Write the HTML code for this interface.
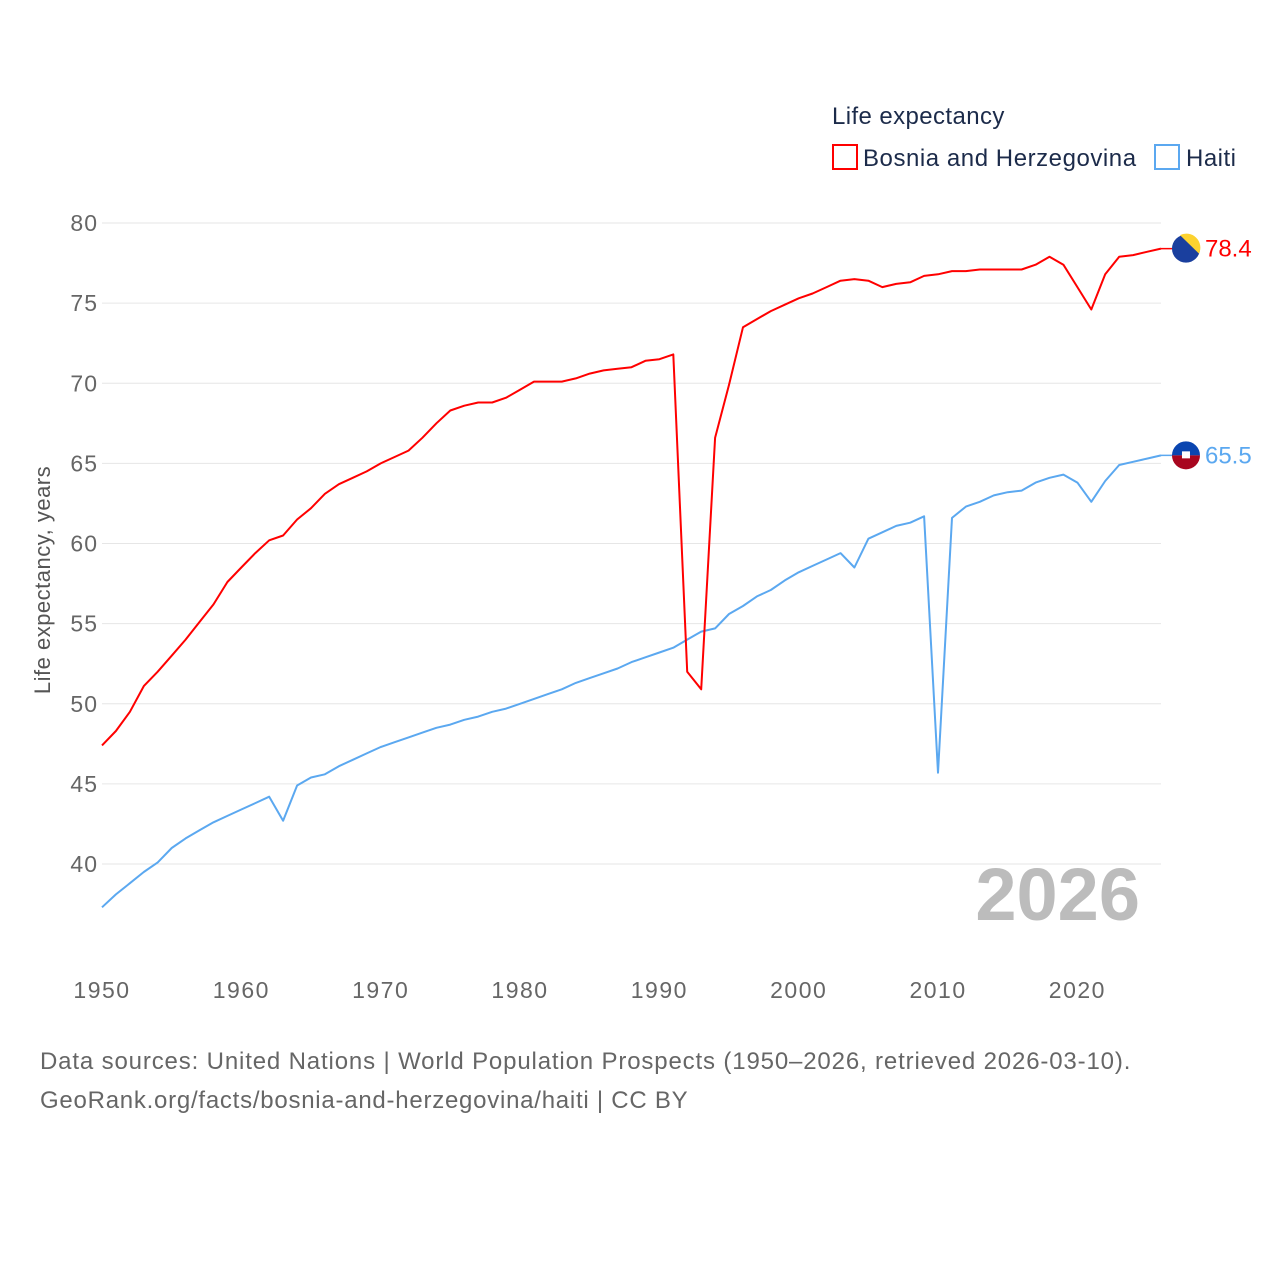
<!DOCTYPE html>
<html><head><meta charset="utf-8"><style>
body{margin:0;background:#fff;}
svg text{font-family:"Liberation Sans",sans-serif;}
</style></head><body>
<svg id="chart" width="1280" height="1280" xmlns="http://www.w3.org/2000/svg">
<rect width="1280" height="1280" fill="#fff"/>
<text x="832" y="124" font-size="24" letter-spacing="0.4" fill="#1c2b4a">Life expectancy</text>
<g>
<rect x="833" y="145" width="24" height="24" fill="none" stroke="#ff0000" stroke-width="2"/>
<text x="863" y="166" font-size="24" letter-spacing="0.55" fill="#1c2b4a">Bosnia and Herzegovina</text></g>
<g>
<rect x="1155" y="145" width="24" height="24" fill="none" stroke="#5ba8f0" stroke-width="2"/>
<text x="1186" y="166" font-size="24" letter-spacing="0.5" fill="#1c2b4a">Haiti</text></g>
<g id="grid"></g>
<text transform="translate(50,580) rotate(-90)" text-anchor="middle" font-size="22" letter-spacing="0.5" fill="#555">Life expectancy, years</text>
<text x="1140" y="920" text-anchor="end" font-size="74" font-weight="bold" fill="#bcbcbc">2026</text>
<g id="series"></g>
<text x="40" y="1069" font-size="24" letter-spacing="0.85" fill="#666">Data sources: United Nations | World Population Prospects (1950–2026, retrieved 2026-03-10).</text>
<text x="40" y="1108" font-size="24" letter-spacing="0.75" fill="#666">GeoRank.org/facts/bosnia-and-herzegovina/haiti | CC BY</text>
</svg>
<script>
const startYear = 1950;
const yTicks = [40,45,50,55,60,65,70,75,80];
const xTicks = [1950,1960,1970,1980,1990,2000,2010,2020];
const bosnia = [47.4,48.3,49.5,51.1,52.0,53.0,54.0,55.1,56.2,57.6,58.5,59.4,60.2,60.5,61.5,62.2,63.1,63.7,64.1,64.5,65.0,65.4,65.8,66.6,67.5,68.3,68.6,68.8,68.8,69.1,69.6,70.1,70.1,70.1,70.3,70.6,70.8,70.9,71.0,71.4,71.5,71.8,52.0,50.9,66.6,69.9,73.5,74.0,74.5,74.9,75.3,75.6,76.0,76.4,76.5,76.4,76.0,76.2,76.3,76.7,76.8,77.0,77.0,77.1,77.1,77.1,77.1,77.4,77.9,77.4,76.0,74.6,76.8,77.9,78.0,78.2,78.4];
const haiti = [37.3,38.1,38.8,39.5,40.1,41.0,41.6,42.1,42.6,43.0,43.4,43.8,44.2,42.7,44.9,45.4,45.6,46.1,46.5,46.9,47.3,47.6,47.9,48.2,48.5,48.7,49.0,49.2,49.5,49.7,50.0,50.3,50.6,50.9,51.3,51.6,51.9,52.2,52.6,52.9,53.2,53.5,54.0,54.5,54.7,55.6,56.1,56.7,57.1,57.7,58.2,58.6,59.0,59.4,58.5,60.3,60.7,61.1,61.3,61.7,45.7,61.6,62.3,62.6,63.0,63.2,63.3,63.8,64.1,64.3,63.8,62.6,63.9,64.9,65.1,65.3,65.5];
const NS="http://www.w3.org/2000/svg";
const X = yr => 102 + (yr-1950)*13.934;
const Y = v => 223 + (80-v)*16.025;
const grid=document.getElementById('grid'), ser=document.getElementById('series');
function mk(tag,attrs,parent){const e=document.createElementNS(NS,tag);for(const k in attrs)e.setAttribute(k,attrs[k]);parent.appendChild(e);return e;}
yTicks.forEach(v=>{
  const l=mk('line',{x1:102,x2:1161,y1:Y(v),y2:Y(v),stroke:'#e6e6e6','stroke-width':1},grid);
  
  
  const t=mk('text',{x:98,y:Y(v)+8,'text-anchor':'end','font-size':23,'letter-spacing':1,fill:'#666'},grid);
  t.textContent=v;
  
  
});
xTicks.forEach(yr=>{
  const t=mk('text',{x:X(yr),y:998,'text-anchor':'middle','font-size':23,'letter-spacing':1.5,fill:'#666'},grid);
  t.textContent=yr;
  
  
});
function line(data,color,name){
  const d=data.map((v,i)=>(i?'L':'M')+X(startYear+i).toFixed(1)+','+Y(v).toFixed(1)).join('');
  const p=mk('path',{d:d,fill:'none',stroke:color,'stroke-width':2,'stroke-linejoin':'round'},ser);
  
  
  const last=data[data.length-1], lx=X(startYear+data.length-1), ly=Y(last);
  mk('line',{x1:lx,x2:lx+12,y1:ly,y2:ly,stroke:color,'stroke-width':1.5},ser);
  const g=mk('g',{},ser);
  
  
  const cx=lx+25;
  if(name==='bosnia'){
    mk('circle',{cx:cx,cy:ly,r:14,fill:'#1a3f9e'},g);
    mk('path',{d:`M${cx-6},${ly-13.5} A14,14 0 0 1 ${cx+13},${ly+5} Z`,fill:'#fcd22f'},g);
  } else {
    mk('path',{d:`M${cx-14},${ly} A14,14 0 0 1 ${cx+14},${ly} Z`,fill:'#0a45b0'},g);
    mk('path',{d:`M${cx-14},${ly} A14,14 0 0 0 ${cx+14},${ly} Z`,fill:'#a8061f'},g);
    mk('rect',{x:cx-4,y:ly-4,width:8,height:7,fill:'#fff'},g);
  }
  const t=mk('text',{x:cx+19,y:ly+8,'font-size':24,fill:color},ser);
  t.textContent=last.toFixed(1);
  
  
}
line(haiti,'#5ba8f0','haiti');
line(bosnia,'#ff0000','bosnia');
</script>
</body></html>
